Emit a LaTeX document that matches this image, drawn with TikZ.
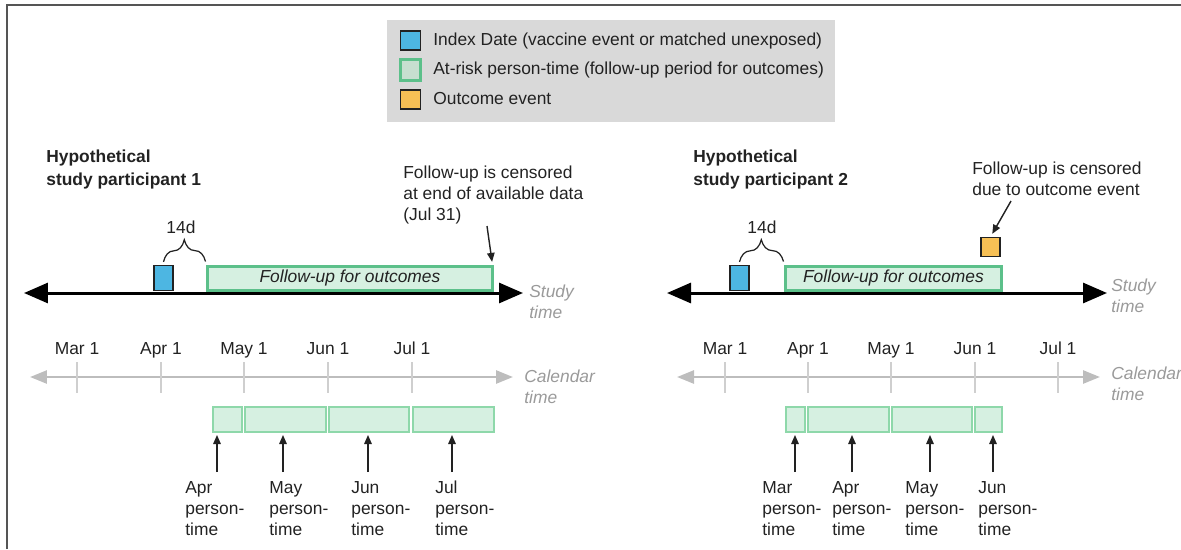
\documentclass[tikz,border=0pt]{standalone}
\usepackage{fontspec}
\setmainfont{Liberation Sans}
\usetikzlibrary{arrows.meta, positioning, decorations.pathreplacing}
\definecolor{idxblue}{HTML}{4DB6E2}
\definecolor{outorange}{HTML}{F7C055}
\definecolor{fugreen}{HTML}{5CC08A}
\definecolor{fufill}{HTML}{D6F0E1}
\definecolor{keyfill}{HTML}{C6DFD0}
\definecolor{segline}{HTML}{8ED8AA}
\definecolor{legendgray}{HTML}{D9D9D9}
\definecolor{axisgray}{HTML}{BDBDBD}
\definecolor{tickgray}{HTML}{CFCFCF}
\definecolor{labelgray}{HTML}{9A9A9A}
\definecolor{framegray}{HTML}{555555}
\definecolor{inkgray}{HTML}{222222}

\begin{document}
\begin{tikzpicture}[x=0.02cm, y=-0.02cm,
    every node/.style={font=\fontsize{9.9}{11.9}\selectfont, inner sep=0pt, text=inkgray},
    title/.style={anchor=north west, align=left, font=\fontsize{9.9}{13}\selectfont\bfseries},
    note/.style={anchor=north west, align=left},
    axislabel/.style={anchor=north west, align=left, text=labelgray, font=\fontsize{9.9}{11.9}\selectfont\itshape},
    idxbox/.style={draw=inkgray, line width=0.7pt, fill=idxblue, minimum width=0.38cm, minimum height=0.5cm},
    outbox/.style={draw=inkgray, line width=0.7pt, fill=outorange, minimum size=0.38cm},
    fubox/.style={draw=fugreen, line width=1.7pt, fill=fufill, minimum height=0.48cm, font=\fontsize{9.9}{11.9}\selectfont\itshape},
    seg/.style={draw=segline, line width=0.9pt, fill=fufill, minimum height=0.5cm, anchor=west},
    studyaxis/.style={line width=1.7pt, {Triangle[length=0.48cm,width=0.4cm]}-{Triangle[length=0.48cm,width=0.4cm]}},
    calaxis/.style={axisgray, line width=1.5pt, {Triangle[length=0.34cm,width=0.26cm]}-{Triangle[length=0.34cm,width=0.26cm]}},
    caltick/.style={tickgray, line width=1.1pt},
    thinarrow/.style={inkgray, line width=0.8pt, -{Triangle[length=0.18cm,width=0.15cm]}},
    brace14/.style={decorate, decoration={brace, amplitude=0.44cm, raise=0.06cm}, line width=0.7pt, inkgray}]

  \useasboundingbox (0,0) rectangle (1181,549);
  \draw [framegray, line width=1.1pt] (7,549) -- (7,5) -- (1181,5); % frame

  % legend
  \fill [legendgray] (387,20) rectangle (835,122);
  \node [idxbox, minimum width=0.4cm, minimum height=0.38cm] (key-idx) at (410.5,40.5) {};
  \node [fubox, fill=keyfill, minimum width=0.4cm, minimum height=0.42cm] (key-fu) at (410.5,70) {};
  \node [outbox, minimum width=0.4cm] (key-out) at (410.5,99.5) {};
  \node [anchor=west] (key-idx-t) at (433,41) {Index Date (vaccine event or matched unexposed)};
  \node [anchor=west] (key-fu-t) at (433,70) {At-risk person-time (follow-up period for outcomes)};
  \node [anchor=west] (key-out-t) at (433,99) {Outcome event};

  % participant 1
  \node [title] (p1) at (46,150) {Hypothetical\\study participant 1};
  \coordinate (st1w) at (24,293);
  \coordinate (st1e) at (523,293);
  \draw [studyaxis] (st1w) -- (st1e);
  \node [idxbox] (idx1) at (163.5,278) {};
  \node [fubox, minimum width=5.72cm] (fu1) at (350,278) {Follow-up for outcomes};
  \draw [brace14] (idx1.north) -- (fu1.north west);
  \node [anchor=base] (d1) at (181,233) {14d};
  \node [note] (cens1) at (403,166) {Follow-up is censored\\at end of available data\\(Jul 31)};
  \coordinate (cens1a) at (487,226);
  \draw [thinarrow, shorten >=1.5pt] (cens1a) -- ([xshift=-0.04cm]fu1.north east);
  \node [axislabel] (stl1) at (529,285) {Study\\time};

  \draw [calaxis] (30,377) -- (513,377);
  \foreach \x/\m in {77/Mar, 161/Apr, 244/May, 328/Jun, 412/Jul} {
    \draw [caltick] (\x,362) -- (\x,393);
    \node [anchor=base] (c1-\m) at (\x,354) {\m~1};
  }
  \node [axislabel] (cl1) at (524,370) {Calendar\\time};

  \foreach \l/\r/\m/\ax/\lx in {212/241/Apr/217/185, 244/325/May/283/269, 328/408/Jun/368/351, 412/493/Jul/452/435} {
    \node [seg, minimum width=(\r-\l)*0.02cm] (s1-\m) at (\l,419.5) {};
    \node [note] (pt1-\m) at (\lx,481) {\m\\person-\\time};
    \coordinate (tip1-\m) at (\ax,435);
    \draw [thinarrow] (tip1-\m |- 0,472) -- (tip1-\m);
  }

  % participant 2
  \node [title] (p2) at (693,150) {Hypothetical\\study participant 2};
  \coordinate (st2w) at (667,293);
  \coordinate (st2e) at (1107,293);
  \draw [studyaxis] (st2w) -- (st2e);
  \node [idxbox] (idx2) at (739.5,278) {};
  \node [fubox, minimum width=4.34cm] (fu2) at (893.5,278) {Follow-up for outcomes};
  \draw [brace14] (idx2.north) -- (fu2.north west);
  \node [anchor=base] (d2) at (762,233) {14d};
  \node [outbox] (out2) at (990.5,247) {};
  \node [note] (cens2) at (972,162) {Follow-up is censored\\due to outcome event};
  \coordinate (cens2a) at (1011,201);
  \draw [thinarrow, shorten >=2pt] (cens2a) -- (out2.north);
  \node [axislabel] (stl2) at (1111,279) {Study\\time};

  \draw [calaxis] (677,377) -- (1100,377);
  \foreach \x/\m in {725/Mar, 808/Apr, 891/May, 975/Jun, 1058/Jul} {
    \draw [caltick] (\x,362) -- (\x,393);
    \node [anchor=base] (c2-\m) at (\x,354) {\m~1};
  }
  \node [axislabel] (cl2) at (1111,367) {Calendar\\time};

  \foreach \l/\r/\m/\ax/\lx in {785/804/Mar/795/762, 807/888/Apr/852/832, 891/971/May/930/905, 974/1001/Jun/993/978} {
    \node [seg, minimum width=(\r-\l)*0.02cm] (s2-\m) at (\l,419.5) {};
    \node [note] (pt2-\m) at (\lx,481) {\m\\person-\\time};
    \coordinate (tip2-\m) at (\ax,435);
    \draw [thinarrow] (tip2-\m |- 0,472) -- (tip2-\m);
  }
\end{tikzpicture}
\end{document}
